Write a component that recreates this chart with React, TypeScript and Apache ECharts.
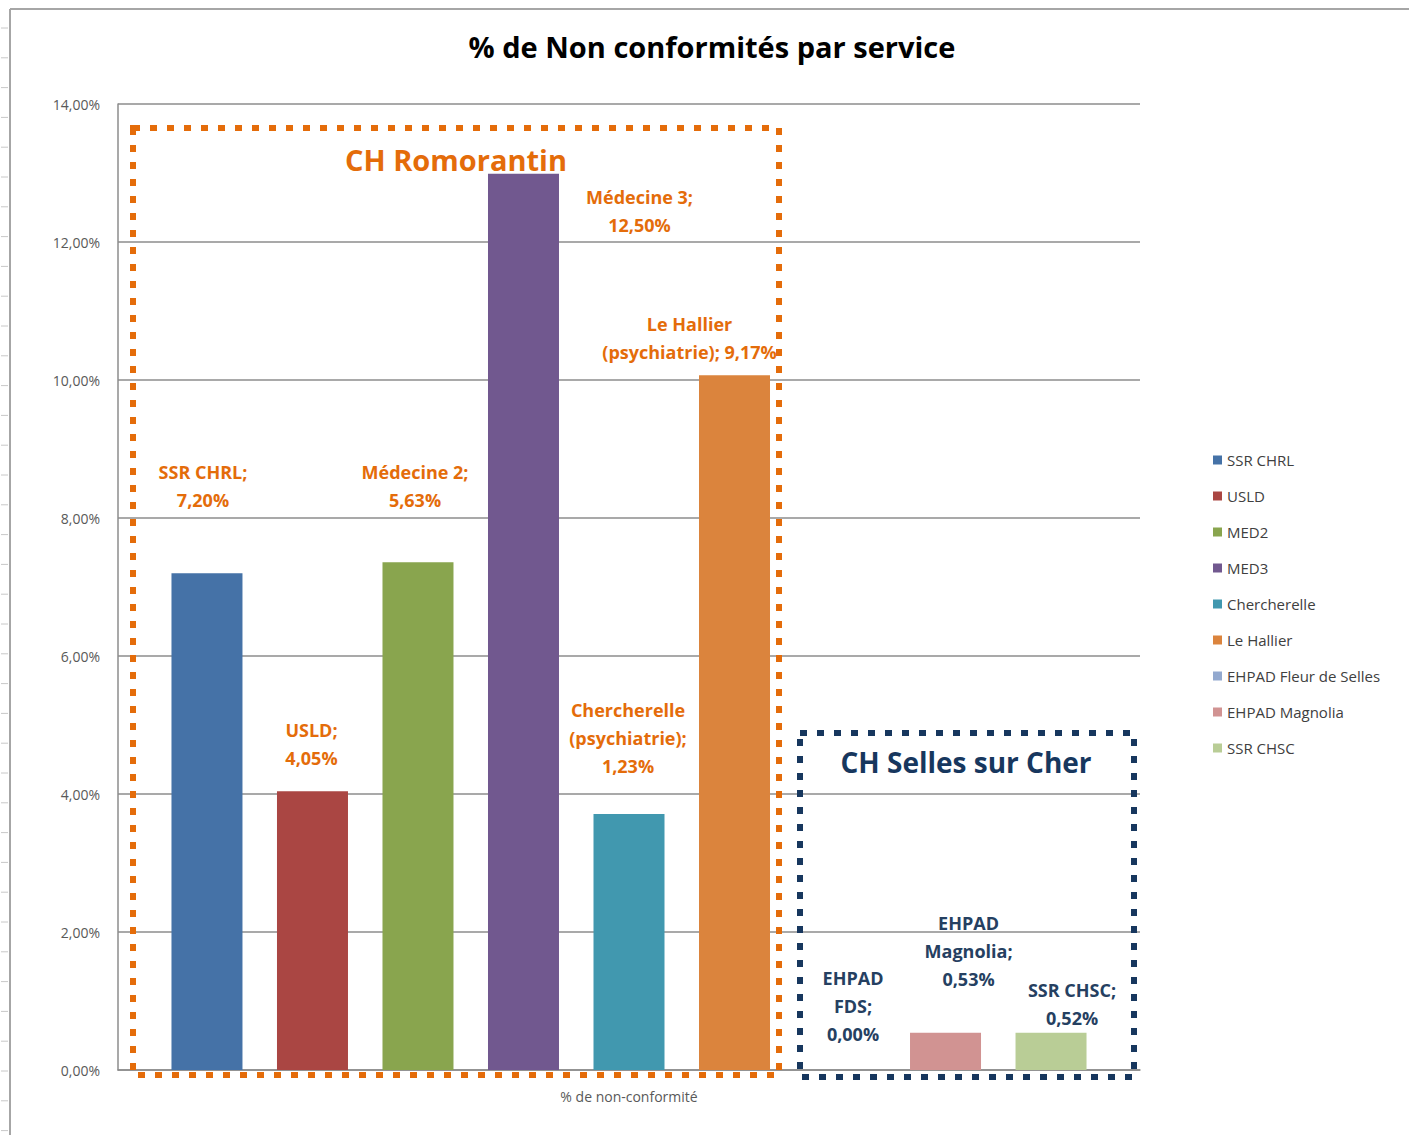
import React, { useEffect, useRef } from "react";
import * as echarts from "echarts";

const categories = ["% de non-conformité"];
const seriesNames = [
  "SSR CHRL",
  "USLD",
  "MED2",
  "MED3",
  "Chercherelle",
  "Le Hallier",
  "EHPAD Fleur de Selles",
  "EHPAD Magnolia",
  "SSR CHSC",
];
// bar heights as drawn (percent)
const seriesValues = [7.2, 4.04, 7.36, 12.99, 3.71, 10.07, 0, 0.54, 0.54];
// data labels as written on the chart
const labelTexts = [
  "SSR CHRL;\n7,20%",
  "USLD;\n4,05%",
  "Médecine 2;\n5,63%",
  "Médecine 3;\n12,50%",
  "Chercherelle\n(psychiatrie);\n1,23%",
  "Le Hallier\n(psychiatrie); 9,17%",
  "EHPAD\nFDS;\n0,00%",
  "EHPAD\nMagnolia;\n0,53%",
  "SSR CHSC;\n0,52%",
];
const colors = [
  "#4572A7",
  "#AA4643",
  "#89A54E",
  "#71588F",
  "#4198AF",
  "#DB843D",
  "#93A9CF",
  "#D19392",
  "#B9CD96",
];
const labelOffsets: [number, number][] = [
  [-4, -59],
  [-1, -19],
  [-3, -48],
  [116, 65],
  [-1, -34],
  [-45, -9],
  [13, -22],
  [23, -40],
  [21, -1],
];
const labelColors = [
  "#E46C0A", "#E46C0A", "#E46C0A", "#E46C0A", "#E46C0A", "#E46C0A",
  "#254061", "#254061", "#254061",
];
const yTicks = { min: 0, max: 14, interval: 2 };
const title = "% de Non conformités par service";
const groupTitles = ["CH Romorantin", "CH Selles sur Cher"];

const FONT = "'Open Sans', Lato, sans-serif";

export default function App() {
  const ref = useRef<HTMLDivElement>(null);
  useEffect(() => {
    if (!ref.current) return;
    const chart = echarts.init(ref.current, undefined, { renderer: "svg" });

    const ticks: any[] = [];
    for (let y = 28; y < 1135; y += 29.8) {
      ticks.push({
        type: "line",
        shape: { x1: 1, y1: y, x2: 8, y2: y },
        style: { stroke: "#C8C8C8", lineWidth: 1 },
        silent: true,
      });
    }

    const option: any = {
      animation: false,
      backgroundColor: "#FFFFFF",
      textStyle: { fontFamily: FONT },
      grid: { left: 118, top: 104, right: 269, bottom: 65, containLabel: false },
      legend: {
        orient: "vertical",
        left: 1208,
        top: 447,
        icon: "rect",
        itemWidth: 9,
        itemHeight: 9,
        itemGap: 20,
        selectedMode: false,
        textStyle: { fontSize: 15, color: "#404040", fontFamily: FONT, lineHeight: 16, padding: [0, 0, 0, 0] },
        data: seriesNames,
      },
      xAxis: {
        type: "category",
        data: categories,
        axisLine: { show: true, lineStyle: { color: "#8C8C8C", width: 1.5 } },
        axisTick: { show: false },
        axisLabel: { fontSize: 14, color: "#595959", margin: 19, fontFamily: FONT },
      },
      yAxis: {
        type: "value",
        min: yTicks.min,
        max: yTicks.max,
        interval: yTicks.interval,
        axisLine: { show: true, lineStyle: { color: "#8C8C8C", width: 1.5 } },
        axisTick: { show: false },
        splitLine: { lineStyle: { color: "#8C8C8C", width: 1.5 } },
        axisLabel: {
          fontSize: 14,
          color: "#595959",
          margin: 18,
          fontFamily: FONT,
          formatter: (v: number) => v.toFixed(2).replace(".", ",") + "%",
        },
      },
      series: seriesNames.map((name, i) => ({
        name,
        type: "bar",
        data: [seriesValues[i]],
        barWidth: 71,
        barGap: "48.6%",
        itemStyle: { color: colors[i] },
        label: {
          show: true,
          position: "top",
          distance: 0,
          offset: labelOffsets[i],
          formatter: labelTexts[i],
          color: labelColors[i],
          fontSize: 18,
          fontWeight: "bold",
          lineHeight: 28,
          align: "center",
          fontFamily: FONT,
        },
      })),
      graphic: [
        {
          type: "line",
          shape: { x1: 10, y1: 9, x2: 1409, y2: 9 },
          style: { stroke: "#A6A6A6", lineWidth: 2 },
          silent: true,
        },
        {
          type: "line",
          shape: { x1: 10, y1: 9, x2: 10, y2: 1135 },
          style: { stroke: "#A6A6A6", lineWidth: 2 },
          silent: true,
        },
        ...ticks,
        {
          type: "text",
          style: {
            text: title,
            x: 712,
            y: 46,
            align: "center",
            verticalAlign: "middle",
            font: "bold 29px " + FONT,
            fill: "#000000",
          },
          silent: true,
        },
        {
          type: "rect",
          shape: { x: 133, y: 128, width: 646, height: 947 },
          style: { fill: "none", stroke: "#E46C0A", lineWidth: 6, lineDash: [7, 10] },
          silent: true,
          z: 10,
        },
        {
          type: "rect",
          shape: { x: 800, y: 733, width: 334, height: 344 },
          style: { fill: "none", stroke: "#17375E", lineWidth: 6, lineDash: [7, 10] },
          silent: true,
          z: 10,
        },
        {
          type: "text",
          style: {
            text: groupTitles[0],
            x: 456,
            y: 159,
            align: "center",
            verticalAlign: "middle",
            font: "bold 29px " + FONT,
            fill: "#E46C0A",
          },
          silent: true,
          z: 10,
        },
        {
          type: "text",
          style: {
            text: groupTitles[1],
            x: 966,
            y: 762,
            align: "center",
            verticalAlign: "middle",
            font: "bold 28px " + FONT,
            fill: "#17375E",
          },
          silent: true,
          z: 10,
        },
      ],
    };
    chart.setOption(option);
    return () => chart.dispose();
  }, []);
  return (
    <div
      ref={ref}
      style={{ position: "absolute", left: 0, top: 0, width: 1409, height: 1135 }}
    />
  );
}
